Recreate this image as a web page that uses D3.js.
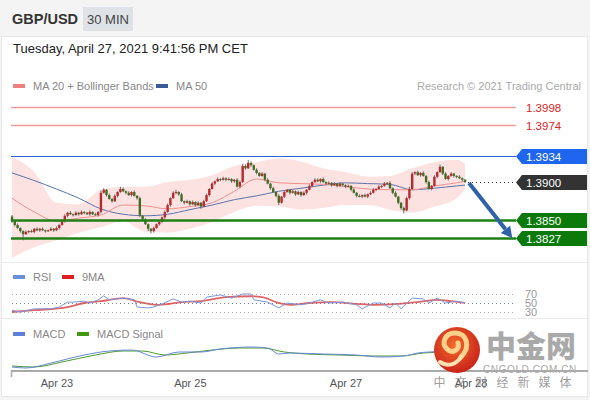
<!DOCTYPE html>
<html><head><meta charset="utf-8">
<script src="https://cdn.jsdelivr.net/npm/d3@7"></script>
<style>body{margin:0;background:#f4f4f4;} svg{display:block;font-family:"Liberation Sans",Arial,sans-serif;}</style>
</head><body><svg id="c" width="590" height="400"></svg>
<script>
// ---------- data ----------
const firstOpen = 1.3855;
const closes = [
1.3849,1.3844,1.3840,1.3836,1.3832,1.3835,1.3836,1.3835,1.3839,1.3837,
1.3839,1.3837,1.3836,1.3837,1.3839,1.3837,1.3840,1.3844,1.3849,1.3856,
1.3860,1.3858,1.3857,1.3860,1.3858,1.3861,1.3860,1.3858,1.3861,1.3858,
1.3857,1.3861,1.3886,1.3890,1.3883,1.3878,1.3875,1.3882,1.3887,1.3891,
1.3888,1.3886,1.3883,1.3887,1.3882,1.3879,1.3856,1.3851,1.3845,1.3839,
1.3836,1.3840,1.3845,1.3848,1.3854,1.3861,1.3870,1.3879,1.3886,1.3887,
1.3884,1.3875,1.3873,1.3875,1.3871,1.3874,1.3870,1.3873,1.3868,1.3875,
1.3883,1.3891,1.3898,1.3901,1.3904,1.3903,1.3905,1.3903,1.3904,1.3901,
1.3903,1.3894,1.3900,1.3921,1.3918,1.3925,1.3922,1.3916,1.3912,1.3908,
1.3911,1.3903,1.3898,1.3892,1.3887,1.3882,1.3873,1.3881,1.3887,1.3890,
1.3886,1.3888,1.3884,1.3887,1.3883,1.3886,1.3890,1.3895,1.3900,1.3903,
1.3901,1.3904,1.3900,1.3898,1.3899,1.3896,1.3898,1.3895,1.3898,1.3896,
1.3894,1.3895,1.3890,1.3886,1.3882,1.3881,1.3883,1.3881,1.3884,1.3886,
1.3890,1.3891,1.3894,1.3895,1.3898,1.3899,1.3892,1.3886,1.3881,1.3873,
1.3866,1.3863,1.3879,1.3891,1.3911,1.3913,1.3909,1.3912,1.3908,1.3900,
1.3891,1.3895,1.3907,1.3913,1.3920,1.3911,1.3904,1.3908,1.3911,1.3908,
1.3907,1.3905,1.3903,1.3900];
// wick extents in pips (1e-4)
const wickUp = [
2,1,2,1,1,2,1,2,1,2, 1,2,1,1,2,1,2,1,2,2, 1,2,1,2,1,2,1,1,2,1, 2,1,3,2,1,2,1,2,1,3,
2,1,2,1,2,1,2,1,2,1, 1,2,1,2,1,2,2,1,2,3, 1,2,1,2,1,2,1,2,1,2, 2,1,2,1,2,1,2,1,2,1,
1,2,2,3,2,4,2,1,2,1, 2,1,2,1,2,1,2,1,2,1, 1,2,1,2,1,2,1,2,1,2, 2,1,2,1,2,1,2,1,2,1,
1,2,1,2,1,2,1,2,1,2, 2,1,2,1,2,1,2,1,2,1, 1,2,2,3,2,1,2,1,2,1, 2,1,2,1,3,1,2,1,2,1,
1,2,1,1];
const wickDn = [
2,2,1,2,8,1,2,1,2,1, 2,1,2,1,1,2,1,2,1,2, 2,1,2,1,2,1,2,1,2,1, 1,2,2,1,2,1,2,1,2,1,
1,2,1,2,1,2,2,2,1,3, 3,2,1,2,1,2,1,2,1,2, 2,1,2,1,2,1,2,1,3,1, 1,2,1,2,1,2,1,2,1,2,
2,1,2,1,2,1,2,1,2,1, 1,2,1,2,1,2,3,1,2,1, 2,1,2,1,2,1,2,1,2,1, 1,2,1,2,1,2,1,2,1,2,
2,1,2,1,2,1,2,1,2,1, 1,2,1,2,1,2,1,2,1,2, 2,4,1,2,1,2,1,2,1,2, 1,2,1,2,1,2,1,2,1,2,
2,1,2,1];

// indicator samples (candle index -> value)
const maIdx   = [0,8,16,24,32,40,48,56,64,72,80,88,96,104,112,120,128,136,144,152,160,163];
const ma50    = [1.3912,1.3902,1.3891,1.3879,1.3865,1.3858,1.3856,1.3858,1.3864,1.3870,1.3877,1.3882,1.3888,1.3892,1.3896,1.3899,1.3898,1.3897,1.3890,1.3892,1.3895,1.3896];
const ma20    = [1.3879,1.3861,1.3849,1.3853,1.3857,1.3870,1.3869,1.3865,1.3868,1.3873,1.3888,1.3904,1.3899,1.3898,1.3897,1.3894,1.3891,1.3890,1.3890,1.3895,1.3899,1.3901];
const bbUpper = [1.3933,1.3913,1.3873,1.3871,1.3890,1.3894,1.3894,1.3900,1.3903,1.3909,1.3921,1.3926,1.3931,1.3927,1.3918,1.3913,1.3907,1.3908,1.3918,1.3926,1.3929,1.3924];
const bbLower = [1.3801,1.3815,1.3824,1.3834,1.3841,1.3849,1.3835,1.3834,1.3839,1.3848,1.3861,1.3869,1.3868,1.3864,1.3866,1.3870,1.3870,1.3864,1.3860,1.3868,1.3879,1.3890];

const levels = [1.3998, 1.3974, 1.3934, 1.3900, 1.3850, 1.3827];
const levelLabels = ["1.3998","1.3974","1.3934","1.3900","1.3850","1.3827"];
const targetPrice = 1.3827;

const rsiIdx = [0,3,8,14,17,20,22,26,28,31,33,35,40,44,45,49,51,54,58,61,64,68,70,75,79,83,86,87,92,96,99,104,107,111,114,119,124,126,130,133,136,138,140,144,148,150,153,156,160,163];
const rsiVal = [34,30,37,37,41,52,52,54,50,57,66,57,61,57,41,39,41,48,59,52,54,50,63,68,61,70,70,57,52,39,50,46,50,57,50,52,46,37,50,50,39,50,37,61,59,50,61,50,54,50];
const rsiMaIdx = [0,8,20,26,32,40,46,53,61,68,77,86,90,96,100,107,115,124,130,139,146,153,158,163];
const rsiMaVal = [30,34,41,50,54,61,52,46,52,54,63,65,63,50,46,50,52,48,46,48,52,57,54,50];
const rsiLevels = [70, 50, 30];

// MACD values in units of 1e-4
const macdIdx = [0,5,14,26,35,43,52,60,68,75,86,92,96,100,112,124,133,141,146,150,157,163];
const macdVal = [-9.6,-10.4,-6.4,0,3.2,4,-1.6,2.4,2.4,4.8,6.4,5.6,0.8,1.6,0.8,0,-1.6,-0.8,1.6,2.4,3.2,4];
const sigIdx = [0,8,18,30,40,47,55,63,72,82,90,98,106,118,130,140,148,156,163];
const sigVal = [-8.8,-9.6,-5.6,0,3.2,3.2,0,1.6,4,5.6,5.6,2.4,0.8,0,-0.8,-0.8,1.6,2.4,3.2];

const tickIdx = [16, 64, 120, 165];
const tickLabels = ["Apr 23", "Apr 25", "Apr 27", "Apr 28"];

// ---------- drawing ----------
const svg = d3.select("#c");
const N = closes.length;
const candles = closes.map((c, i) => {
  const o = i === 0 ? firstOpen : closes[i - 1];
  return {i, o, c, h: Math.max(o, c) + wickUp[i] / 1e4, l: Math.min(o, c) - wickDn[i] / 1e4};
});

const x = d3.scaleLinear().domain([0, N - 1]).range([12, 465]);
const y = d3.scaleLinear().domain([1.3827, 1.3998]).range([238, 107]);
const yR = d3.scaleLinear().domain([30, 70]).range([312, 294]);
const yM = d3.scaleLinear().domain([-10, 10]).range([367.5, 342.5]);

svg.append("rect").attr("width", 590).attr("height", 400).attr("fill", "#f4f4f4");
svg.append("rect").attr("x", 1.5).attr("y", 36.5).attr("width", 586).attr("height", 360).attr("fill", "#fff").attr("stroke", "#e8e8e8");
[262, 318].forEach(yy => svg.append("line").attr("x1", 2).attr("x2", 587).attr("y1", yy + .5).attr("y2", yy + .5).attr("stroke", "#ececec"));

// header
svg.append("text").attr("x", 12).attr("y", 24).attr("font-size", 14.5).attr("font-weight", "bold").attr("fill", "#333").text("GBP/USD");
svg.append("rect").attr("x", 83).attr("y", 7).attr("width", 50).attr("height", 24).attr("fill", "#dfe2e6");
svg.append("text").attr("x", 108).attr("y", 23.5).attr("text-anchor", "middle").attr("font-size", 13).attr("fill", "#444").text("30 MIN");
svg.append("text").attr("x", 13).attr("y", 53).attr("font-size", 13).attr("fill", "#222").text("Tuesday, April 27, 2021 9:41:56 PM CET");

// legend
function legend(x0, yy, color, label) {
  svg.append("rect").attr("x", x0).attr("y", yy - 2).attr("width", 12).attr("height", 4).attr("fill", color);
  svg.append("text").attr("x", x0 + 20).attr("y", yy + 4).attr("font-size", 11).attr("fill", "#888").text(label);
}
legend(13, 86, "#f08080", "MA 20 + Bollinger Bands");
legend(156, 86, "#3a5a9a", "MA 50");
svg.append("text").attr("x", 581).attr("y", 90).attr("text-anchor", "end").attr("font-size", 11).attr("fill", "#aaa").text("Research \u00a9 2021 Trading Central");

// main clip
svg.append("clipPath").attr("id", "mainClip").append("rect").attr("x", 2).attr("y", 97).attr("width", 586).attr("height", 164);
const main = svg.append("g").attr("clip-path", "url(#mainClip)");

const bandArea = d3.area().x((d, k) => x(maIdx[k])).y0((d, k) => y(bbLower[k])).y1((d, k) => y(bbUpper[k])).curve(d3.curveMonotoneX);
main.append("path").attr("d", bandArea(maIdx)).attr("fill", "#fde2e2");
const mline = arr => d3.line().x((d, k) => x(maIdx[k])).y((d, k) => y(arr[k])).curve(d3.curveMonotoneX)(maIdx);
main.append("path").attr("d", mline(ma50)).attr("fill", "none").attr("stroke", "#5a73ad").attr("stroke-width", 1);
main.append("path").attr("d", mline(ma20)).attr("fill", "none").attr("stroke", "#f29090").attr("stroke-width", 1);

// levels
const lvStyle = [
  {line: "#f49c9c", w: 1.3, txt: "#e02424", box: null},
  {line: "#f49c9c", w: 1.3, txt: "#e02424", box: null},
  {line: "#2d5fd0", w: 1.2, txt: "#fff", box: "#1f66ee"},
  {line: null, w: 1, txt: "#fff", box: "#333333"},
  {line: "#1f7f16", w: 2.6, txt: "#fff", box: "#0b7a0b"},
  {line: "#1f7f16", w: 2.6, txt: "#fff", box: "#0b7a0b"}
];
const lx0 = 11, lx1 = 516, bx1 = 587;
levels.forEach((p, k) => {
  const s = lvStyle[k], yy = Math.round(y(p)) + .5;
  if (s.line) svg.append("line").attr("x1", lx0).attr("x2", lx1).attr("y1", yy).attr("y2", yy).attr("stroke", s.line).attr("stroke-width", s.w);
  if (s.box) {
    svg.append("path").attr("d", `M${lx1},${yy} L${lx1 + 6},${yy - 7.5} L${bx1},${yy - 7.5} L${bx1},${yy + 7.5} L${lx1 + 6},${yy + 7.5} Z`).attr("fill", s.box);
  }
  svg.append("text").attr("x", 526).attr("y", yy + 4).attr("font-size", 11.5).attr("fill", s.txt).text(levelLabels[k]);
});
// dotted line from last close to box
svg.append("line").attr("x1", x(N - 1) + 3).attr("x2", lx1).attr("y1", Math.round(y(closes[N - 1])) + .5).attr("y2", Math.round(y(closes[N - 1])) + .5)
  .attr("stroke", "#333").attr("stroke-dasharray", "1,3");

// candles
const cg = main.append("g");
cg.selectAll("line.w").data(candles).join("line").attr("class", "w")
  .attr("x1", d => x(d.i)).attr("x2", d => x(d.i)).attr("y1", d => y(d.h)).attr("y2", d => y(d.l))
  .attr("stroke", "#707070").attr("stroke-width", 1);
cg.selectAll("rect").data(candles).join("rect")
  .attr("x", d => x(d.i) - 1.2).attr("width", 2.4)
  .attr("y", d => y(Math.max(d.o, d.c)))
  .attr("height", d => Math.max(1, Math.abs(y(d.o) - y(d.c))))
  .attr("fill", d => d.c > d.o ? "#b92a2e" : (d.c < d.o ? "#3f6e22" : "#888"));

// arrow
const ax0 = x(N - 1) + 4, ay0 = y(closes[N - 1]) + 1, ax1 = x(N - 1 + 17), ay1 = y(targetPrice);
const ang = Math.atan2(ay1 - ay0, ax1 - ax0);
const bx = ax1 - 11 * Math.cos(ang), by = ay1 - 11 * Math.sin(ang);
svg.append("line").attr("x1", ax0).attr("y1", ay0).attr("x2", bx).attr("y2", by).attr("stroke", "#2f62a8").attr("stroke-width", 4);
const px = -Math.sin(ang), py = Math.cos(ang);
svg.append("path").attr("d", `M${ax1},${ay1} L${bx + 6 * px},${by + 6 * py} L${bx - 6 * px},${by - 6 * py} Z`).attr("fill", "#2f62a8");

// RSI panel
legend(13, 277, "#6a8ee0", "RSI");
legend(62, 277, "#e02020", "9MA");
rsiLevels.forEach(v => {
  svg.append("line").attr("x1", 12).attr("x2", 515).attr("y1", Math.round(yR(v)) + .5).attr("y2", Math.round(yR(v)) + .5)
    .attr("stroke", v === 50 ? "#6f80b0" : "#b0b0b0").attr("stroke-dasharray", "1,3");
  svg.append("text").attr("x", 525).attr("y", yR(v) + 4).attr("font-size", 11).attr("fill", "#999").text(v);
});
svg.append("clipPath").attr("id", "rsiClip").append("rect").attr("x", 2).attr("y", 264).attr("width", 586).attr("height", 53);
const rg = svg.append("g").attr("clip-path", "url(#rsiClip)");
rg.append("path").attr("d", d3.line().x((d, k) => x(rsiMaIdx[k])).y((d, k) => yR(rsiMaVal[k])).curve(d3.curveMonotoneX)(rsiMaIdx))
  .attr("fill", "none").attr("stroke", "#d84a4a").attr("stroke-opacity", .85).attr("stroke-width", 1.8);
rg.append("path").attr("d", d3.line().x((d, k) => x(rsiIdx[k])).y((d, k) => yR(rsiVal[k]))(rsiIdx))
  .attr("fill", "none").attr("stroke", "#7b97e0").attr("stroke-width", 1);

// MACD panel
legend(13, 334, "#5c7fdc", "MACD");
legend(77, 334, "#3f9a12", "MACD Signal");
svg.append("path").attr("d", d3.line().x((d, k) => x(sigIdx[k])).y((d, k) => yM(sigVal[k])).curve(d3.curveMonotoneX)(sigIdx))
  .attr("fill", "none").attr("stroke", "#4d9a2a").attr("stroke-width", 1);
svg.append("path").attr("d", d3.line().x((d, k) => x(macdIdx[k])).y((d, k) => yM(macdVal[k])).curve(d3.curveMonotoneX)(macdIdx))
  .attr("fill", "none").attr("stroke", "#6688dd").attr("stroke-width", 1);

// x axis
svg.append("line").attr("x1", 11).attr("x2", 588).attr("y1", 371).attr("y2", 371).attr("stroke", "#aaa").attr("stroke-width", 2);
svg.append("line").attr("x1", 11.5).attr("x2", 11.5).attr("y1", 371).attr("y2", 377).attr("stroke", "#aaa").attr("stroke-width", 1.5);
const xAxis = svg.append("g").attr("transform", "translate(0,371)")
  .call(d3.axisBottom(x).tickValues(tickIdx).tickFormat((d, k) => tickLabels[k]).tickSize(0).tickPadding(8));
xAxis.select(".domain").remove();
xAxis.selectAll("text").attr("font-size", 11).attr("fill", "#555").attr("font-family", '"Liberation Sans",Arial,sans-serif');

// watermark
const wm = svg.append("g");
const grad = svg.append("defs").append("radialGradient").attr("id", "lg").attr("cx", "45%").attr("cy", "40%").attr("r", "60%");
grad.append("stop").attr("offset", "0%").attr("stop-color", "#f36a2a");
grad.append("stop").attr("offset", "100%").attr("stop-color", "#c9241a");
wm.append("circle").attr("cx", 457).attr("cy", 350).attr("r", 23).attr("fill", "url(#lg)");
wm.append("path").attr("d", "M461,357 C471,347 467,333 455,333 C445,333 441,343 447,349 C452,354 460,350 458,343")
  .attr("fill", "none").attr("stroke", "#ffd08a").attr("stroke-width", 5).attr("stroke-linecap", "round");
wm.append("path").attr("d", "M461,357 C456,365 447,367 440,362").attr("fill", "none").attr("stroke", "#ffe2b0").attr("stroke-width", 4).attr("stroke-linecap", "round");
wm.append("text").attr("x", 531).attr("y", 357).attr("text-anchor", "middle").attr("font-family", '"Noto Sans CJK SC"').attr("font-weight", 900)
  .attr("font-size", 30).attr("fill", "#9a9a9a").attr("fill-opacity", .85).text("中金网");
wm.append("text").attr("x", 530).attr("y", 373).attr("text-anchor", "middle").attr("font-size", 10).attr("letter-spacing", 0.6)
  .attr("fill", "#aaa").text("CNGOLD.COM.CN");
wm.append("text").attr("x", 507).attr("y", 387).attr("text-anchor", "middle").attr("font-family", '"Noto Sans CJK SC"')
  .attr("font-size", 12).attr("letter-spacing", 9).attr("fill", "#8a8a8a").attr("fill-opacity", .85).text("中文财经新媒体");
</script></body></html>
